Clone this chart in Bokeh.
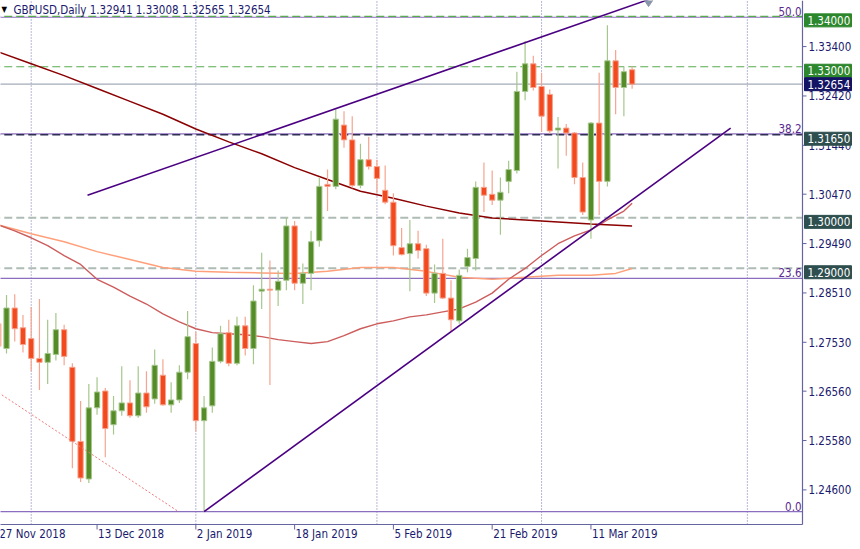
from bokeh.plotting import figure
from bokeh.models import Range1d, ColumnDataSource
from bokeh.core.properties import value
from bokeh.embed import file_html
from bokeh.resources import INLINE

# ---------------- data ----------------
dates = ["27 Nov", "28 Nov", "29 Nov", "30 Nov", "3 Dec", "4 Dec", "5 Dec", "6 Dec", "7 Dec", "10 Dec",
         "11 Dec", "12 Dec", "13 Dec", "14 Dec", "17 Dec", "18 Dec", "19 Dec", "20 Dec", "21 Dec", "24 Dec",
         "26 Dec", "27 Dec", "28 Dec", "31 Dec", "2 Jan", "3 Jan", "4 Jan", "7 Jan", "8 Jan", "9 Jan",
         "10 Jan", "11 Jan", "14 Jan", "15 Jan", "16 Jan", "17 Jan", "18 Jan", "21 Jan", "22 Jan", "23 Jan",
         "24 Jan", "25 Jan", "28 Jan", "29 Jan", "30 Jan", "31 Jan", "1 Feb", "4 Feb", "5 Feb", "6 Feb",
         "7 Feb", "8 Feb", "11 Feb", "12 Feb", "13 Feb", "14 Feb", "15 Feb", "18 Feb", "19 Feb", "20 Feb",
         "21 Feb", "22 Feb", "25 Feb", "26 Feb", "27 Feb", "28 Feb", "1 Mar", "4 Mar", "5 Mar", "6 Mar",
         "7 Mar", "8 Mar", "11 Mar", "12 Mar", "13 Mar", "14 Mar", "15 Mar", "18 Mar"]

opens = [1.27900, 1.27407, 1.28211, 1.27819, 1.27603, 1.27210, 1.27132, 1.27289, 1.27780, 1.27034,
         1.25562, 1.24816, 1.26229, 1.26563, 1.25895, 1.26170, 1.26327, 1.26072, 1.26523, 1.26406,
         1.26877, 1.26288, 1.26386, 1.26936, 1.27505, 1.25974, 1.26268, 1.27152, 1.27721, 1.27112,
         1.27858, 1.27407, 1.28545, 1.28584, 1.28565, 1.28761, 1.29840, 1.28702, 1.28898, 1.29546,
         1.30665, 1.30625, 1.31842, 1.31548, 1.30645, 1.31155, 1.31018, 1.30547, 1.30311, 1.29409,
         1.29291, 1.29487, 1.29389, 1.28506, 1.28898, 1.28408, 1.27956, 1.29036, 1.29193, 1.30606,
         1.30468, 1.30351, 1.30724, 1.30940, 1.32510, 1.33059, 1.32608, 1.32451, 1.31744, 1.31783,
         1.31685, 1.30802, 1.29958, 1.31882, 1.30724, 1.33118, 1.32588, 1.32941]
highs = [1.28300, 1.28467, 1.28486, 1.28074, 1.28231, 1.28388, 1.27976, 1.28113, 1.27878, 1.27112,
         1.26366, 1.26700, 1.26837, 1.26622, 1.26465, 1.27053, 1.26779, 1.27053, 1.26955, 1.27387,
         1.27191, 1.26739, 1.27073, 1.28153, 1.27740, 1.26465, 1.27426, 1.27858, 1.27976, 1.28035,
         1.28035, 1.28663, 1.29310, 1.29153, 1.28957, 1.30017, 1.29939, 1.29095, 1.29742, 1.30802,
         1.30959, 1.32156, 1.32117, 1.32019, 1.31469, 1.31607, 1.31155, 1.31038, 1.30488, 1.29801,
         1.29958, 1.29742, 1.29468, 1.29075, 1.29585, 1.28761, 1.28977, 1.29389, 1.30724, 1.31097,
         1.30940, 1.30802, 1.31136, 1.32902, 1.33511, 1.33216, 1.32883, 1.32549, 1.32000, 1.31862,
         1.31705, 1.31097, 1.31901, 1.32883, 1.33825, 1.33334, 1.33000, 1.33008]
lows = [1.27150, 1.27309, 1.27544, 1.27328, 1.26955, 1.26582, 1.26700, 1.27171, 1.27073, 1.25032,
        1.24757, 1.24737, 1.26092, 1.25248, 1.25699, 1.26072, 1.26033, 1.26033, 1.26131, 1.26308,
        1.26268, 1.26131, 1.26327, 1.26798, 1.25758, 1.24168, 1.26131, 1.27112, 1.27053, 1.27073,
        1.27269, 1.27093, 1.28192, 1.26680, 1.28251, 1.28565, 1.28565, 1.28290, 1.28565, 1.29428,
        1.30135, 1.30567, 1.31391, 1.30586, 1.30586, 1.30959, 1.30488, 1.30272, 1.29252, 1.29252,
        1.28545, 1.29193, 1.28447, 1.28310, 1.28388, 1.27740, 1.27897, 1.28918, 1.28957, 1.30115,
        1.30253, 1.29664, 1.30488, 1.30881, 1.32333, 1.32529, 1.31705, 1.31666, 1.30979, 1.31234,
        1.30665, 1.30056, 1.29585, 1.30056, 1.30625, 1.32058, 1.32019, 1.32565]
closes = [1.27450, 1.28211, 1.27799, 1.27485, 1.27210, 1.27132, 1.27309, 1.27780, 1.27250, 1.25562,
          1.24836, 1.26229, 1.26543, 1.25817, 1.26170, 1.26327, 1.26072, 1.26523, 1.26249, 1.27073,
          1.26288, 1.26386, 1.26936, 1.27642, 1.25974, 1.26229, 1.27152, 1.27701, 1.27112, 1.27858,
          1.27407, 1.28349, 1.28584, 1.28565, 1.28741, 1.29840, 1.28702, 1.28898, 1.29526, 1.30625,
          1.30625, 1.31960, 1.31548, 1.30645, 1.31155, 1.31018, 1.30783, 1.30311, 1.29448, 1.29271,
          1.29487, 1.29350, 1.28506, 1.28898, 1.28408, 1.27976, 1.28859, 1.29212, 1.30606, 1.30449,
          1.30351, 1.30508, 1.30959, 1.32510, 1.33059, 1.32588, 1.32019, 1.31725, 1.31783, 1.31685,
          1.30802, 1.30115, 1.31882, 1.30724, 1.33118, 1.32588, 1.32902, 1.32654]

# moving averages (bar index, value)
ma200_idx = [0, 4, 8, 12, 16, 20, 24, 28, 32, 36, 40, 44, 48, 52, 56, 60, 64, 68, 72, 77]
ma200_val = [1.33295, 1.33059, 1.32824, 1.32569, 1.32313, 1.32058, 1.31764, 1.31509, 1.31273, 1.30998,
             1.30763, 1.30527, 1.30390, 1.30233, 1.30096, 1.29997, 1.29958, 1.29919, 1.29880, 1.29840]
ma100_idx = [0, 4, 8, 12, 16, 20, 24, 28, 32, 36, 40, 44, 48, 52, 56, 60, 64, 68, 72, 75, 77]
ma100_val = [1.29860, 1.29683, 1.29526, 1.29330, 1.29173, 1.29016, 1.28938, 1.28918, 1.28908, 1.28898,
             1.28938, 1.29016, 1.29016, 1.28938, 1.28820, 1.28781, 1.28820, 1.28859, 1.28859, 1.28898, 1.28996]
ma50_idx = [0, 2, 4, 6, 8, 10, 12, 14, 16, 18, 20, 22, 24, 26, 28, 30, 32, 34, 36, 38,
            40, 42, 44, 46, 48, 50, 52, 54, 56, 58, 60, 62, 64, 66, 68, 70, 72, 74, 76, 77]
ma50_val = [1.29860, 1.29742, 1.29605, 1.29448, 1.29252, 1.29075, 1.28781, 1.28623, 1.28447, 1.28290,
            1.28094, 1.27937, 1.27799, 1.27721, 1.27701, 1.27681, 1.27642, 1.27583, 1.27544, 1.27505,
            1.27544, 1.27662, 1.27799, 1.27897, 1.27956, 1.28035, 1.28074, 1.28133, 1.28192, 1.28329,
            1.28506, 1.28781, 1.28996, 1.29252, 1.29487, 1.29644, 1.29762, 1.29958, 1.30135, 1.30292]

# drawn objects
upper_tl_x = [10.84, 79.0]
upper_tl_y = [1.30449, 1.34333]
lower_tl_x = [25.0, 88.97]
lower_tl_y = [1.24168, 1.31783]
dotted_tl_x = [-2.0, 21.9]
dotted_tl_y = [1.26749, 1.24168]

fib_levels = [1.24168, 1.28800, 1.31666, 1.33982]
fib_labels = ["0.0", "23.6", "38.2", "50.0"]

hlines = [1.34000, 1.33000, 1.32654, 1.31650, 1.30000, 1.29000]
hline_labels = ["1.34000", "1.33000", "1.32654", "1.31650", "1.30000", "1.29000"]
separators = [4, 24, 46, 66, 91]

price_ticks = [1.24600, 1.25580, 1.26560, 1.27530, 1.28510, 1.29490, 1.30470, 1.31440, 1.32420, 1.33400]
price_tick_lbl = ["1.24600", "1.25580", "1.26560", "1.27530", "1.28510", "1.29490", "1.30470", "1.31440",
                  "1.32420", "1.33400"]
date_tick_idx = [0, 12, 24, 36, 48, 60, 72]
date_tick_lbl = ["27 Nov 2018", "13 Dec 2018", "2 Jan 2019", "18 Jan 2019", "5 Feb 2019", "21 Feb 2019", "11 Mar 2019"]

title_text = "GBPUSD,Daily  1.32941 1.33008 1.32565 1.32654"

# ---------------- layout / styling ----------------
FONT = "DejaVu Sans Condensed, Liberation Sans"
FSIZE = "11.5px"
NAVY = "#1a1a6e"
AXIS = "#6464a0"
UP_BODY, UP_WICK = "#558c28", "#a6c78c"
DN_BODY, DN_WICK = "#f24a1e", "#f6a48f"

W, H = 852, 541          # whole canvas (frame covers it all)
CW, CH = 802, 524        # chart area inside it
X0, X1 = 0.27, 97.7      # chart area x extent (bar index)
Y0, Y1 = 1.23913, 1.34315  # chart area price extent
PX = CW / (X1 - X0)
PY = CH / (Y1 - Y0)
XR = X0 + W / PX
YB = Y1 - H / PY

p = figure(frame_width=W, frame_height=H, x_range=Range1d(X0, XR), y_range=Range1d(YB, Y1),
           output_backend="svg", toolbar_location=None, x_axis_location=None, y_axis_location=None,
           min_border=0)
p.outline_line_color = None
p.grid.visible = False
p.background_fill_color = "white"
p.border_fill_color = "white"


def hseg(y, color, width, dash="solid"):
    p.segment(x0=[X0 - 1], y0=[y], x1=[X1], y1=[y], line_color=color, line_width=width, line_dash=dash)


def txt(xs, ys, texts, color, align="left", baseline="middle", size=FSIZE):
    p.text(x=xs, y=ys, text=texts, text_color=color, text_align=align, text_baseline=baseline,
           text_font=value(FONT), text_font_size=value(size))


# vertical separators
p.segment(x0=separators, y0=[Y0] * len(separators), x1=separators, y1=[Y1] * len(separators),
          line_color="#7070b0", line_width=1, line_dash="1 2")

# fibonacci lines
for lv in fib_levels:
    hseg(lv, "#8c6ebe", 1.2)

# horizontal price lines
hl_styles = [("#5aab50", 1.2, "8 4"), ("#5aab50", 1.2, "8 4"), ("#a3acb8", 1.2, "solid"),
             ("#2f2f55", 1.4, "8 4"), ("#aebcb5", 2, "8 4"), ("#aebcb5", 2, "8 4")]
for lv, (c, w, d) in zip(hlines, hl_styles):
    hseg(lv, c, w, d)

# moving averages
p.line(ma100_idx, ma100_val, line_color="#ffa07a", line_width=1.5)
p.line(ma50_idx, ma50_val, line_color="#cd5c5c", line_width=1.4)
p.line(ma200_idx, ma200_val, line_color="#8b0000", line_width=1.5)

# candles
xs = list(range(len(dates)))
up = [c >= o for o, c in zip(opens, closes)]
src = ColumnDataSource(dict(
    x=xs, high=highs, low=lows,
    top=[max(o, c) for o, c in zip(opens, closes)],
    bottom=[min(o, c) for o, c in zip(opens, closes)],
    body=[UP_BODY if u else DN_BODY for u in up],
    wick=[UP_WICK if u else DN_WICK for u in up],
))
p.segment(x0="x", y0="low", x1="x", y1="high", line_color="wick", line_width=1.2, source=src)
p.vbar(x="x", width=0.64, top="top", bottom="bottom", fill_color="body", line_color="wick",
       line_width=1, source=src)

# trend lines
p.line(dotted_tl_x, dotted_tl_y, line_color="#f07878", line_width=1, line_dash="2 2")
p.line(upper_tl_x, upper_tl_y, line_color="#4b0082", line_width=1.6)
p.line(lower_tl_x, lower_tl_y, line_color="#4b0082", line_width=1.6)
p.scatter([upper_tl_x[-1]], [upper_tl_y[-1]], marker="diamond", size=14,
          fill_color="#8796a8", line_color="#8796a8")

# fib labels
txt([X1 - 1 / PX] * len(fib_levels), [lv + 1 / PY for lv in fib_levels], fib_labels, "#5a2a90",
    align="right", baseline="bottom")

# white cover so nothing leaks into the axis area
p.quad(left=[X1], right=[XR], bottom=[YB], top=[Y1], fill_color="white", line_color=None)
p.quad(left=[X0 - 1], right=[XR], bottom=[YB], top=[Y0], fill_color="white", line_color=None)

# axis lines & ticks
p.segment(x0=[X1], y0=[Y1], x1=[X1], y1=[Y0], line_color=AXIS, line_width=1.2)
p.segment(x0=[X0 - 1], y0=[Y0], x1=[X1], y1=[Y0], line_color=AXIS, line_width=1.2)
p.segment(x0=[X1] * len(price_ticks), y0=price_ticks, x1=[X1 + 4 / PX] * len(price_ticks), y1=price_ticks,
          line_color=AXIS, line_width=1)
p.segment(x0=date_tick_idx, y0=[Y0] * len(date_tick_idx), x1=date_tick_idx,
          y1=[Y0 - 5 / PY] * len(date_tick_idx), line_color=AXIS, line_width=1)

# price tick labels
txt([X1 + 6 / PX] * len(price_ticks), price_ticks, price_tick_lbl, NAVY)

# price boxes on the axis
box_cols = ["#2d872d", "#2d872d", "#141464", "#2f4f4f", "#2f4f4f", "#2f4f4f"]
box_off = [4, 4, 0, 4, 4, 4]
box_y = [lv - o / PY for lv, o in zip(hlines, box_off)]
p.rect(x=[X1 + 25.5 / PX] * len(hlines), y=box_y, width=47, height=13, width_units="screen",
       height_units="screen", fill_color=box_cols, line_color=box_cols)
txt([X1 + 5 / PX] * len(hlines), box_y, hline_labels, "white")

# date labels
txt([i + 1 / PX for i in date_tick_idx], [Y0 - 2 / PY] * len(date_tick_idx), date_tick_lbl, NAVY,
    baseline="top")

# title
txt([X0 + 1 / PX], [Y1 - 4 / PY], ["\u25BC"], "black", baseline="top", size="8px")
txt([X0 + 13 / PX], [Y1 - 2 / PY], [title_text], NAVY, baseline="top")

open("out.html", "w").write(file_html(p, INLINE))
